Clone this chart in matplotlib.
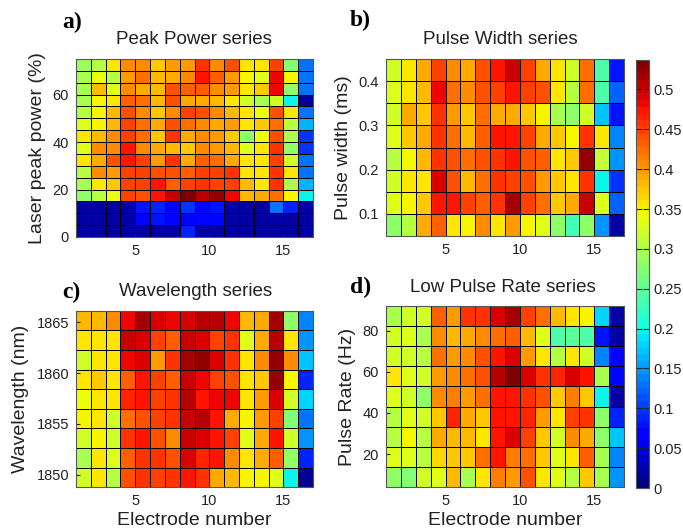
import numpy as np
import matplotlib
matplotlib.use('Agg')
import matplotlib.pyplot as plt
from matplotlib.ticker import FormatStrFormatter

plt.rcParams['font.family'] = ['Liberation Sans', 'DejaVu Sans']

# electrode grid (pcolor style: 17 electrodes -> 16 cells)
electrode_edges = list(range(1, 18))
electrode_ticks = [5, 10, 15]

# peak power series, rows listed from top (75%) down to 0%
power_edges = [0, 5, 10, 15, 20, 25, 30, 35, 40, 45, 50, 55, 60, 65, 70, 75]
power_ticks = [0, 20, 40, 60]
power_vals = [
    [0.29, 0.31, 0.36, 0.41, 0.41, 0.37, 0.40, 0.40, 0.46, 0.41, 0.44, 0.36, 0.36, 0.45, 0.27, 0.13],
    [0.30, 0.34, 0.31, 0.40, 0.42, 0.38, 0.39, 0.41, 0.47, 0.43, 0.40, 0.345, 0.335, 0.48, 0.35, 0.13],
    [0.30, 0.38, 0.33, 0.41, 0.39, 0.38, 0.44, 0.43, 0.43, 0.41, 0.40, 0.36, 0.37, 0.48, 0.28, 0.13],
    [0.30, 0.345, 0.36, 0.43, 0.42, 0.38, 0.44, 0.39, 0.39, 0.38, 0.36, 0.32, 0.30, 0.32, 0.20, 0.015],
    [0.31, 0.35, 0.38, 0.44, 0.41, 0.37, 0.41, 0.45, 0.44, 0.41, 0.38, 0.36, 0.34, 0.44, 0.36, 0.13],
    [0.335, 0.35, 0.38, 0.45, 0.42, 0.39, 0.44, 0.42, 0.41, 0.39, 0.40, 0.36, 0.37, 0.42, 0.31, 0.16],
    [0.36, 0.38, 0.41, 0.45, 0.42, 0.37, 0.46, 0.39, 0.41, 0.40, 0.37, 0.28, 0.34, 0.44, 0.30, 0.10],
    [0.335, 0.41, 0.41, 0.47, 0.41, 0.39, 0.38, 0.37, 0.41, 0.40, 0.38, 0.335, 0.355, 0.46, 0.28, 0.10],
    [0.36, 0.39, 0.44, 0.47, 0.45, 0.40, 0.46, 0.39, 0.43, 0.42, 0.39, 0.36, 0.355, 0.45, 0.32, 0.13],
    [0.31, 0.41, 0.40, 0.45, 0.45, 0.44, 0.44, 0.43, 0.45, 0.45, 0.46, 0.355, 0.36, 0.46, 0.36, 0.13],
    [0.30, 0.36, 0.37, 0.45, 0.45, 0.47, 0.43, 0.45, 0.46, 0.45, 0.45, 0.38, 0.36, 0.46, 0.30, 0.16],
    [0.28, 0.31, 0.34, 0.45, 0.44, 0.47, 0.50, 0.53, 0.51, 0.525, 0.48, 0.38, 0.39, 0.42, 0.35, 0.20],
    [0.022, 0.018, 0.022, 0.022, 0.08, 0.085, 0.075, 0.095, 0.075, 0.08, 0.022, 0.022, 0.022, 0.13, 0.09, 0.018],
    [0.018, 0.018, 0.018, 0.018, 0.07, 0.08, 0.07, 0.075, 0.07, 0.07, 0.018, 0.018, 0.018, 0.02, 0.018, 0.018],
    [0.02, 0.018, 0.018, 0.018, 0.02, 0.02, 0.02, 0.085, 0.025, 0.025, 0.02, 0.02, 0.025, 0.018, 0.018, 0.018],
]

# pulse width series (ms), top row first
width_edges = [0.05, 0.10, 0.15, 0.20, 0.25, 0.30, 0.35, 0.40, 0.45]
width_ticks = [0.1, 0.2, 0.3, 0.4]
width_vals = [
    [0.32, 0.36, 0.39, 0.45, 0.41, 0.39, 0.44, 0.47, 0.50, 0.45, 0.39, 0.36, 0.32, 0.42, 0.24, 0.08],
    [0.335, 0.36, 0.38, 0.48, 0.42, 0.41, 0.44, 0.45, 0.47, 0.45, 0.44, 0.36, 0.31, 0.42, 0.24, 0.12],
    [0.325, 0.39, 0.37, 0.46, 0.40, 0.37, 0.42, 0.39, 0.39, 0.375, 0.35, 0.30, 0.285, 0.32, 0.17, 0.08],
    [0.335, 0.37, 0.39, 0.46, 0.42, 0.38, 0.43, 0.47, 0.47, 0.45, 0.39, 0.37, 0.35, 0.46, 0.36, 0.135],
    [0.31, 0.35, 0.38, 0.46, 0.44, 0.42, 0.44, 0.46, 0.47, 0.44, 0.43, 0.355, 0.37, 0.525, 0.315, 0.145],
    [0.32, 0.355, 0.36, 0.49, 0.44, 0.38, 0.42, 0.46, 0.45, 0.44, 0.40, 0.37, 0.36, 0.46, 0.20, 0.10],
    [0.33, 0.35, 0.37, 0.47, 0.475, 0.45, 0.43, 0.46, 0.52, 0.45, 0.42, 0.37, 0.39, 0.50, 0.33, 0.12],
    [0.28, 0.31, 0.39, 0.43, 0.36, 0.35, 0.41, 0.355, 0.40, 0.345, 0.335, 0.28, 0.23, 0.285, 0.15, 0.02],
]

# wavelength series (nm), top row first
wave_edges = [1848.8, 1850.7, 1852.6, 1854.6, 1856.5, 1858.4, 1860.3, 1862.3, 1864.2, 1866.1]
wave_ticks = [1850, 1855, 1860, 1865]
wave_vals = [
    [0.38, 0.38, 0.41, 0.48, 0.52, 0.49, 0.48, 0.495, 0.505, 0.51, 0.48, 0.38, 0.39, 0.52, 0.28, 0.14],
    [0.355, 0.355, 0.355, 0.50, 0.49, 0.45, 0.43, 0.50, 0.49, 0.45, 0.46, 0.335, 0.39, 0.51, 0.36, 0.145],
    [0.32, 0.36, 0.355, 0.48, 0.495, 0.40, 0.46, 0.515, 0.525, 0.49, 0.46, 0.355, 0.41, 0.525, 0.41, 0.175],
    [0.36, 0.375, 0.355, 0.43, 0.475, 0.45, 0.43, 0.50, 0.48, 0.45, 0.44, 0.36, 0.375, 0.525, 0.35, 0.09],
    [0.34, 0.36, 0.355, 0.465, 0.475, 0.45, 0.46, 0.51, 0.47, 0.48, 0.48, 0.36, 0.40, 0.49, 0.32, 0.18],
    [0.345, 0.36, 0.325, 0.42, 0.44, 0.445, 0.46, 0.50, 0.505, 0.47, 0.39, 0.345, 0.40, 0.45, 0.27, 0.13],
    [0.32, 0.345, 0.325, 0.46, 0.475, 0.44, 0.41, 0.50, 0.495, 0.47, 0.45, 0.335, 0.39, 0.475, 0.32, 0.145],
    [0.30, 0.36, 0.335, 0.43, 0.46, 0.46, 0.44, 0.49, 0.465, 0.47, 0.41, 0.36, 0.39, 0.43, 0.28, 0.085],
    [0.32, 0.36, 0.305, 0.44, 0.46, 0.445, 0.46, 0.47, 0.46, 0.39, 0.38, 0.35, 0.345, 0.335, 0.195, 0.015],
]

# low pulse rate series (Hz), top row first
rate_edges = [4.0, 13.8, 23.6, 33.3, 43.1, 52.9, 62.7, 72.4, 82.2, 92.0]
rate_ticks = [20, 40, 60, 80]
rate_vals = [
    [0.30, 0.32, 0.32, 0.43, 0.40, 0.46, 0.455, 0.49, 0.52, 0.45, 0.42, 0.38, 0.36, 0.345, 0.18, 0.02],
    [0.32, 0.33, 0.30, 0.41, 0.385, 0.39, 0.41, 0.42, 0.43, 0.385, 0.33, 0.235, 0.25, 0.235, 0.08, 0.02],
    [0.32, 0.325, 0.31, 0.42, 0.395, 0.41, 0.44, 0.47, 0.49, 0.40, 0.36, 0.31, 0.36, 0.32, 0.14, 0.07],
    [0.355, 0.335, 0.32, 0.40, 0.41, 0.42, 0.44, 0.51, 0.53, 0.49, 0.46, 0.465, 0.49, 0.47, 0.30, 0.075],
    [0.33, 0.32, 0.28, 0.41, 0.415, 0.395, 0.42, 0.475, 0.47, 0.46, 0.44, 0.375, 0.415, 0.375, 0.20, 0.02],
    [0.31, 0.33, 0.32, 0.37, 0.465, 0.39, 0.37, 0.475, 0.47, 0.465, 0.395, 0.355, 0.45, 0.46, 0.285, 0.09],
    [0.31, 0.345, 0.31, 0.39, 0.385, 0.385, 0.36, 0.47, 0.49, 0.45, 0.37, 0.32, 0.41, 0.39, 0.285, 0.17],
    [0.33, 0.33, 0.31, 0.365, 0.375, 0.37, 0.42, 0.47, 0.415, 0.42, 0.37, 0.335, 0.355, 0.435, 0.30, 0.14],
    [0.28, 0.27, 0.32, 0.33, 0.38, 0.30, 0.36, 0.415, 0.40, 0.44, 0.355, 0.335, 0.31, 0.37, 0.295, 0.145],
]

cbar_ticks = [0, 0.05, 0.1, 0.15, 0.2, 0.25, 0.3, 0.35, 0.4, 0.45, 0.5]
vmin, vmax = 0, 0.537
cmap = plt.get_cmap('jet', 64)

W, H = 683, 531
fig = plt.figure(figsize=(W/100, H/100), dpi=100)

def add_ax(l, t, r, b):
    # axes placed by pixel box (left, top, right, bottom)
    return fig.add_axes([l/W, 1 - b/H, (r - l)/W, (b - t)/H])

panels = [
    (power_vals, power_edges, power_ticks, 'Laser peak power (%)', 'Peak Power series', 'a)',
     (76, 59, 313, 237), (194, 40), (72, 22)),
    (width_vals, width_edges, width_ticks, 'Pulse width (ms)', 'Pulse Width series', 'b)',
     (386, 59, 624, 236), (500, 40), (360, 20)),
    (wave_vals, wave_edges, wave_ticks, 'Wavelength (nm)', 'Wavelength series', 'c)',
     (76, 311, 313, 487), (196, 292), (71, 292)),
    (rate_vals, rate_edges, rate_ticks, 'Pulse Rate (Hz)', 'Low Pulse Rate series', 'd)',
     (386, 306, 624, 487), (503, 288), (361, 287)),
]

mesh = None
for i, (vals, yedges, yticks, ylab, title, letter, box, tpos, lpos) in enumerate(panels):
    ax = add_ax(*box)
    mesh = ax.pcolormesh(electrode_edges, yedges, np.array(vals)[::-1], cmap=cmap,
                         vmin=vmin, vmax=vmax, edgecolors='k', linewidth=0.7)
    ax.set_xlim(electrode_edges[0], electrode_edges[-1])
    ax.set_ylim(yedges[0], yedges[-1])
    ax.set_xticks(electrode_ticks)
    ax.set_yticks(yticks)
    ax.tick_params(direction='in', length=3, labelsize=10.5, pad=5, colors='#222222')
    ax.set_ylabel(ylab, fontsize=14, labelpad=5, color='#222222')
    if i >= 2:
        ax.set_xlabel('Electrode number', fontsize=14, labelpad=3, color='#222222')
    for sp in ax.spines.values():
        sp.set_color('#555555')
    fig.text(tpos[0]/W, 1 - tpos[1]/H, title, fontsize=13.5, ha='center', va='center',
             color='#222222')
    fig.text(lpos[0]/W, 1 - lpos[1]/H, letter, fontsize=17, fontweight='bold',
             family='Liberation Serif', ha='center', va='center')

cax = add_ax(636, 60, 649, 488)
cb = fig.colorbar(mesh, cax=cax, ticks=cbar_ticks)
cb.ax.yaxis.set_major_formatter(FormatStrFormatter('%g'))
cb.ax.tick_params(direction='in', left=True, right=True, length=4, width=0.8,
                  labelsize=10.5, pad=3, colors='#222222')
cb.outline.set_edgecolor('#555555')

fig.savefig('out.png', dpi=100)
